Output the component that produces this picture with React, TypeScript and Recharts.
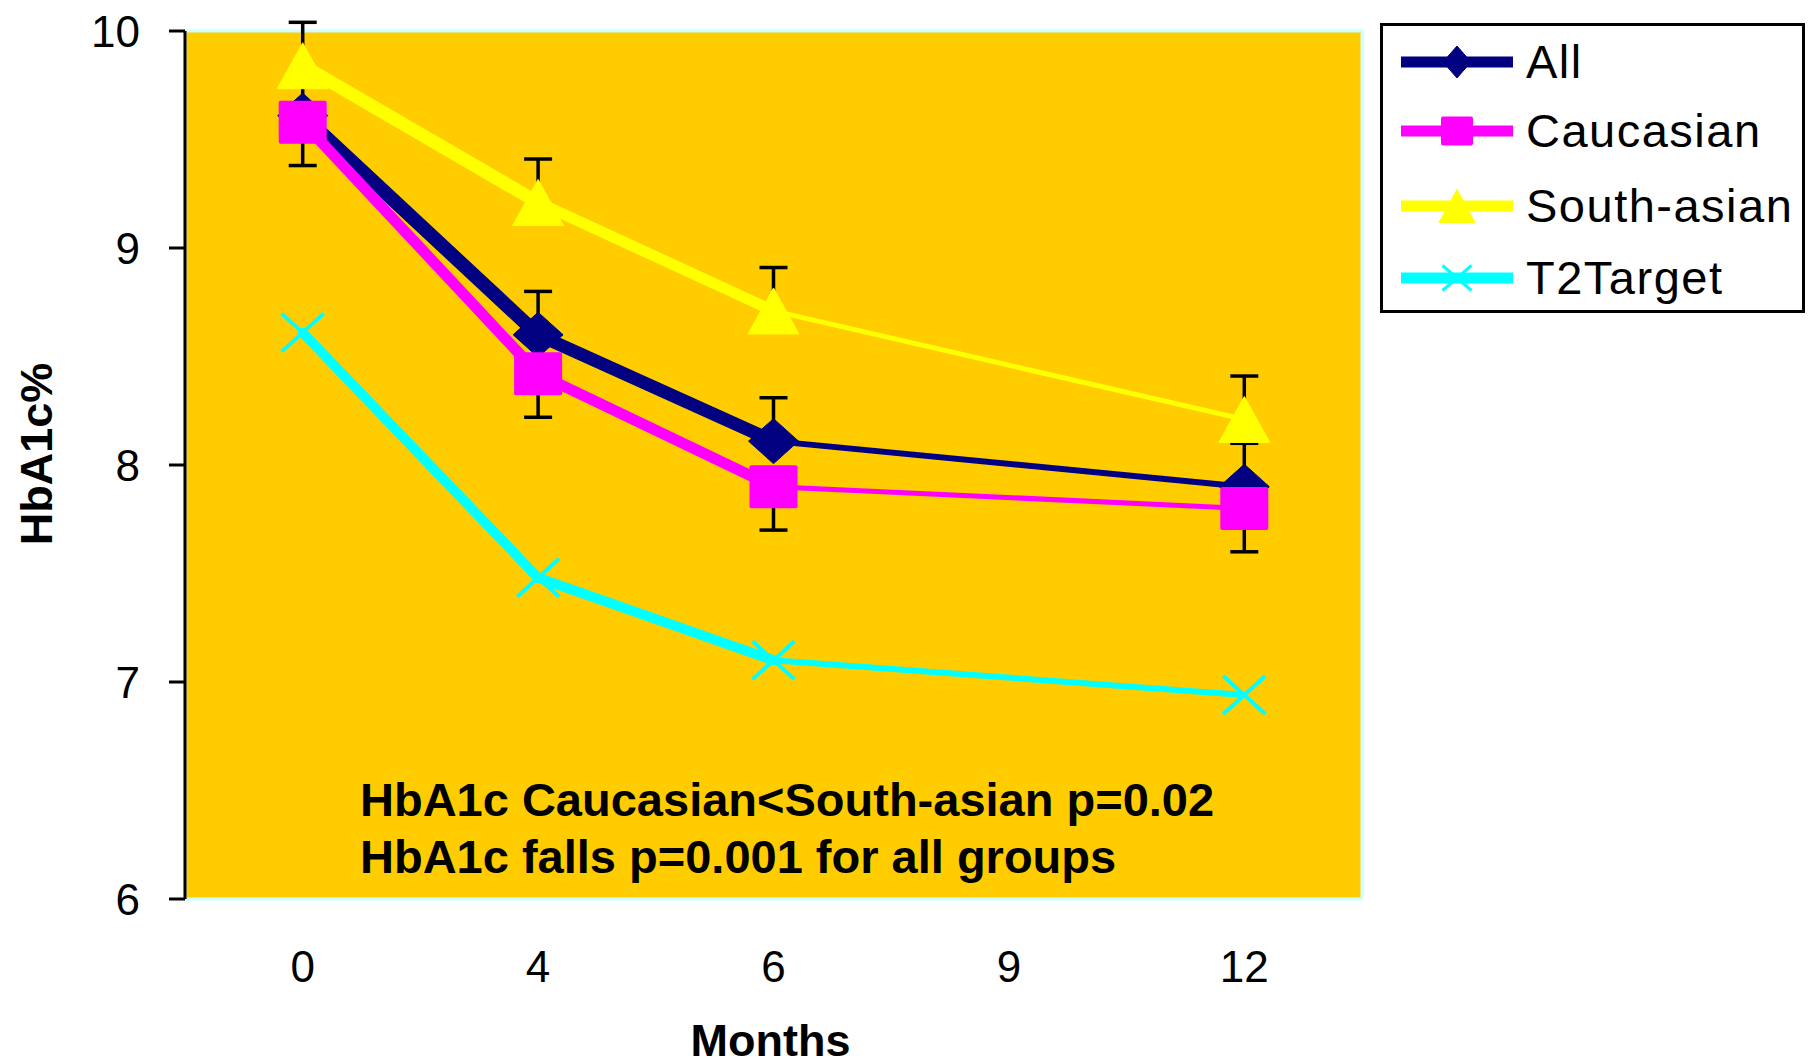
import React from 'react';
import { ComposedChart, Line, XAxis, YAxis, ReferenceArea, ReferenceLine, Legend, Label } from 'recharts';

// ---------- data ----------
const categories = ['0', '4', '6', '9', '12'];
const allValues = [9.61, 8.6, 8.11, null, 7.9];
const caucasianValues = [9.58, 8.42, 7.9, null, 7.8];
const southAsianValues = [9.84, 9.21, 8.71, null, 8.21];
const t2TargetValues = [8.61, 7.48, 7.1, null, 6.94];
const allErrorUp = [0.2, 0.2, 0.2, null, 0.2];
const caucasianErrorDown = [0.2, 0.2, 0.2, null, 0.2];
const southAsianErrorUp = [0.2, 0.2, 0.2, null, 0.2];
const yTicks = [6, 7, 8, 9, 10];
const seriesNames = ['All', 'Caucasian', 'South-asian', 'T2Target'];
const annotationLines = ['HbA1c Caucasian<South-asian p=0.02', 'HbA1c falls p=0.001 for all groups'];
const yTitle = 'HbA1c%';
const xTitle = 'Months';

// ---------- styles ----------
const FONT = '"Liberation Sans", Arial, Helvetica, sans-serif';
const CAP_HALF = 14;
const PLOT_TOP = 31;
const PLOT_BOTTOM = 899;

type Series = {
  key: string;
  name: string;
  values: (number | null)[];
  color: string;
  marker: 'diamond' | 'square' | 'triangle' | 'cross';
  mw: number;
  mh: number;
  segWidths: number[];
  err?: (number | null)[];
  errDir?: 'up' | 'down';
};

const SERIES: Series[] = [
  { key: 'all', name: seriesNames[0], values: allValues, color: '#000080', marker: 'diamond', mw: 50, mh: 45, segWidths: [14, 13, 6], err: allErrorUp, errDir: 'up' },
  { key: 'cau', name: seriesNames[1], values: caucasianValues, color: '#FF00FF', marker: 'square', mw: 48, mh: 43, segWidths: [11, 11, 5], err: caucasianErrorDown, errDir: 'down' },
  { key: 'sa', name: seriesNames[2], values: southAsianValues, color: '#FFFF00', marker: 'triangle', mw: 51, mh: 46, segWidths: [13, 11, 5], err: southAsianErrorUp, errDir: 'up' },
  { key: 't2', name: seriesNames[3], values: t2TargetValues, color: '#00FFFF', marker: 'cross', mw: 42, mh: 38, segWidths: [10, 10, 6] },
];

// ---------- tables built from arrays ----------
const data: any[] = categories.map((c, i) => {
  const row: any = { idx: i, month: c };
  SERIES.forEach((s) => {
    row[s.key] = s.values[i];
  });
  return row;
});

const segmentKeys: { key: string; color: string; width: number }[] = [];
SERIES.forEach((s) => {
  const defined = s.values.map((v, i) => (v == null ? -1 : i)).filter((i) => i >= 0);
  for (let k = 0; k < defined.length - 1; k++) {
    const a = defined[k];
    const b = defined[k + 1];
    const key = `${s.key}_seg${k}`;
    data[a][key] = s.values[a];
    data[b][key] = s.values[b];
    segmentKeys.push({ key, color: s.color, width: s.segWidths[k] });
  }
});

// one-sided error bars: each one a two-point vertical series (value -> value ± error)
const errorBars: { id: string; data: { idx: number; y: number }[] }[] = [];
SERIES.forEach((s) => {
  if (!s.err) return;
  s.values.forEach((v, i) => {
    const e = s.err![i];
    if (v == null || e == null) return;
    const end = s.errDir === 'up' ? v + e : v - e;
    errorBars.push({ id: `${s.key}-eb-${i}`, data: [{ idx: i, y: v }, { idx: i, y: end }] });
  });
});

// y domain: [6, 10] extended by any error bar that pokes above 10 (as the original does)
const Y_MIN = yTicks[0];
const Y_MAX = yTicks[yTicks.length - 1];
const dataMax = Math.max(Y_MAX, ...errorBars.map((eb) => Math.max(eb.data[0].y, eb.data[1].y)));
// keep the value 10 at the top of the yellow plot: grow the top margin for the extra range
const pxPerUnit = (PLOT_BOTTOM - PLOT_TOP) / (Y_MAX - Y_MIN);
const topMargin = PLOT_TOP - (dataMax - Y_MAX) * pxPerUnit;

// ---------- marker shapes ----------
function MarkerShape({ shape, color, cx, cy, w, h, sw = 4 }: any) {
  if (shape === 'diamond') {
    return (
      <polygon
        points={`${cx},${cy - h / 2} ${cx + w / 2},${cy} ${cx},${cy + h / 2} ${cx - w / 2},${cy}`}
        fill={color}
        stroke={color}
        strokeWidth={1}
        strokeLinejoin="round"
      />
    );
  }
  if (shape === 'square') {
    return <rect x={cx - w / 2} y={cy - h / 2} width={w} height={h} rx={2} fill={color} />;
  }
  if (shape === 'triangle') {
    return (
      <polygon
        points={`${cx},${cy - h / 2} ${cx + w / 2},${cy + h / 2} ${cx - w / 2},${cy + h / 2}`}
        fill={color}
        stroke={color}
        strokeWidth={1}
        strokeLinejoin="round"
      />
    );
  }
  return (
    <g stroke={color} strokeWidth={sw}>
      <line x1={cx - w / 2} y1={cy - h / 2} x2={cx + w / 2} y2={cy + h / 2} />
      <line x1={cx - w / 2} y1={cy + h / 2} x2={cx + w / 2} y2={cy - h / 2} />
    </g>
  );
}

function makeDot(s: Series) {
  return (props: any) => {
    const { cx, cy, index } = props;
    const k = `m-${s.key}-${index}`;
    if (cx == null || cy == null || Number.isNaN(cx) || Number.isNaN(cy)) return <g key={k} />;
    return (
      <g key={k}>
        <MarkerShape shape={s.marker} color={s.color} cx={cx} cy={cy} w={s.mw} h={s.mh} />
      </g>
    );
  };
}

function capDot(id: string) {
  return (props: any) => {
    const { cx, cy, index } = props;
    if (index !== 1 || cx == null || cy == null) return <g key={`${id}-${index}`} />;
    return (
      <line
        key={`${id}-${index}`}
        x1={cx - CAP_HALF}
        x2={cx + CAP_HALF}
        y1={cy}
        y2={cy}
        stroke="#000"
        strokeWidth={3.5}
      />
    );
  };
}

// ---------- legend ----------
const legendMarkerSize: Record<string, [number, number]> = {
  diamond: [28, 32],
  square: [32, 29],
  triangle: [36, 33],
  cross: [29, 25],
};
const legendRowCenters = [39, 108, 183, 255];

function LegendBox() {
  return (
    <div
      style={{
        position: 'relative',
        width: 425,
        height: 290,
        border: '3px solid #000',
        boxSizing: 'border-box',
        background: '#fff',
        fontFamily: FONT,
      }}
    >
      {SERIES.map((s, i) => {
        const [w, h] = legendMarkerSize[s.marker];
        return (
          <div key={s.key} style={{ position: 'absolute', left: 0, top: legendRowCenters[i] - 3 - 30, height: 60, width: 420 }}>
            <svg width={140} height={60} style={{ position: 'absolute', left: 18, top: 0 }}>
              <line x1={0} y1={30} x2={112} y2={30} stroke={s.color} strokeWidth={11} />
              <MarkerShape shape={s.marker} color={s.color} cx={56} cy={30} w={w} h={h} sw={3} />
            </svg>
            <span
              style={{
                position: 'absolute',
                left: 143,
                top: 0,
                lineHeight: '60px',
                fontSize: 47,
                letterSpacing: 1.5,
                color: '#000',
                whiteSpace: 'nowrap',
              }}
            >
              {s.name}
            </span>
          </div>
        );
      })}
    </div>
  );
}

// ---------- labels ----------
function AnnotationLabel(props: any) {
  const vb = props.viewBox || {};
  const x = vb.x + 175;
  const bottom = vb.y + vb.height;
  return (
    <g>
      <text x={x} y={bottom - 83} fontFamily={FONT} fontWeight="bold" fontSize={47} fill="#000">
        {annotationLines[0]}
      </text>
      <text x={x} y={bottom - 26} fontFamily={FONT} fontWeight="bold" fontSize={47} fill="#000">
        {annotationLines[1]}
      </text>
    </g>
  );
}

function YTitle(props: any) {
  const vb = props.viewBox || {};
  const cx = vb.x + 52;
  const cy = 454;
  return (
    <text
      x={cx}
      y={cy}
      transform={`rotate(-90, ${cx}, ${cy})`}
      textAnchor="middle"
      fontFamily={FONT}
      fontWeight="bold"
      fontSize={45}
      fill="#000"
    >
      {yTitle}
    </text>
  );
}

function XTitle(props: any) {
  const vb = props.viewBox || {};
  const cx = vb.x + vb.width / 2 - 3;
  const y = vb.y + vb.height - 8;
  return (
    <text x={cx} y={y} textAnchor="middle" fontFamily={FONT} fontWeight="bold" fontSize={45} fill="#000">
      {xTitle}
    </text>
  );
}

const boundaryTicks = [-0.5, 0.5, 1.5, 2.5, 3.5, 4.5];
const centerTicks = categories.map((_, i) => i);

export default function App() {
  return (
    <div style={{ position: 'absolute', left: 0, top: 0, width: 1814, height: 1064, background: '#fff' }}>
      <ComposedChart
        width={1814}
        height={1064}
        data={data}
        margin={{ top: topMargin, right: 452, left: 0, bottom: 0 }}
        style={{ fontFamily: FONT }}
      >
        <ReferenceArea
          x1={-0.5}
          x2={4.5}
          y1={Y_MIN}
          y2={Y_MAX}
          fill="#FFCC00"
          fillOpacity={1}
          stroke="#CCFFFF"
          strokeWidth={3}
          ifOverflow="visible"
          label={AnnotationLabel}
        />
        <XAxis
          type="number"
          dataKey="idx"
          domain={[-0.5, 4.5]}
          ticks={boundaryTicks}
          tickFormatter={() => ''}
          tickSize={16}
          height={0}
          axisLine={{ stroke: '#000', strokeWidth: 3 }}
          tickLine={{ stroke: '#000', strokeWidth: 3 }}
        />
        <XAxis
          xAxisId="labels"
          type="number"
          dataKey="idx"
          domain={[-0.5, 4.5]}
          ticks={centerTicks}
          tickFormatter={(v: number) => categories[v] ?? ''}
          axisLine={false}
          tickLine={false}
          tickSize={6}
          tickMargin={46}
          height={165}
          tick={{ fill: '#000', fontSize: 44, fontFamily: FONT }}
        >
          <Label content={XTitle} />
        </XAxis>
        <YAxis
          type="number"
          domain={[Y_MIN, dataMax]}
          ticks={yTicks}
          width={185}
          tickSize={16}
          tickMargin={29}
          axisLine={false}
          tickLine={{ stroke: '#000', strokeWidth: 3 }}
          tick={{ fill: '#000', fontSize: 44, fontFamily: FONT }}
        >
          <Label content={YTitle} />
        </YAxis>
        <ReferenceLine
          segment={[
            { x: -0.5, y: Y_MIN },
            { x: -0.5, y: Y_MAX },
          ]}
          stroke="#000"
          strokeWidth={3}
          ifOverflow="visible"
        />
        {segmentKeys.map((sg) => (
          <Line
            key={sg.key}
            dataKey={sg.key}
            stroke={sg.color}
            strokeWidth={sg.width}
            strokeLinecap="round"
            dot={false}
            activeDot={false}
            connectNulls
            isAnimationActive={false}
            legendType="none"
          />
        ))}
        {errorBars.map((eb) => (
          <Line
            key={eb.id}
            data={eb.data}
            dataKey="y"
            stroke="#000"
            strokeWidth={3.5}
            dot={capDot(eb.id)}
            activeDot={false}
            isAnimationActive={false}
            legendType="none"
          />
        ))}
        {SERIES.map((s) => (
          <Line
            key={'m-' + s.key}
            dataKey={s.key}
            name={s.name}
            stroke="none"
            strokeWidth={0}
            dot={makeDot(s)}
            activeDot={false}
            isAnimationActive={false}
          />
        ))}
        <Legend
          layout="vertical"
          align="center"
          verticalAlign="middle"
          wrapperStyle={{ position: 'absolute', left: 1380, top: 23, width: 425, height: 290, margin: 0, padding: 0 }}
          content={() => <LegendBox />}
        />
      </ComposedChart>
    </div>
  );
}
